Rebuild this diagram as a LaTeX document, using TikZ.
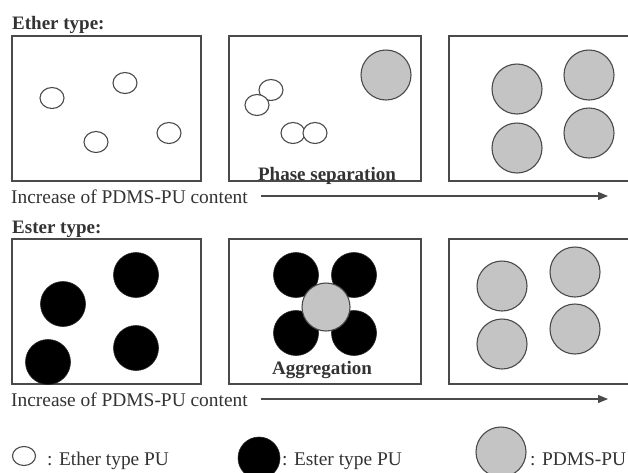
\documentclass[tikz,border=0pt]{standalone}
\usepackage{fontspec}
\setmainfont{Liberation Serif}
\usetikzlibrary{shapes.geometric,arrows.meta}
\definecolor{ink}{HTML}{333333}
\definecolor{edge}{HTML}{4A4A4A}
\definecolor{pdms}{HTML}{C4C4C4}
\tikzset{
  panel/.style={draw=edge,line width=1.3pt},
  etherpu/.style={ellipse,draw=edge,line width=1.1pt,fill=white,minimum width=24pt,minimum height=21pt,inner sep=0pt},
  esterpu/.style={circle,fill=black,draw=black!85,line width=0.6pt,minimum size=45pt,inner sep=0pt},
  pdmspu/.style={circle,fill=pdms,draw=edge,line width=1.1pt,minimum size=50pt,inner sep=0pt},
  heading/.style={font=\bfseries\fontsize{19}{21}\selectfont,text=ink,inner sep=0pt,anchor=base west},
  caption/.style={font=\fontsize{19.4}{21}\selectfont,text=ink,inner sep=0pt,anchor=base west},
  stage/.style={font=\bfseries\fontsize{19}{21}\selectfont,text=ink,inner sep=0pt,anchor=base},
  trend/.style={draw=edge,line width=1.1pt,-{Triangle[length=10pt,width=8pt]}}
}
\begin{document}
\begin{tikzpicture}[x=1pt,y=-1pt]
\useasboundingbox (0,0) rectangle (628,472);
\clip (0,0) rectangle (628,472);
\fill[white] (0,0) rectangle (628,472);
% headings
\node[heading] (ethT) at (12,29) {Ether type:};
\node[heading] (estT) at (12,233) {Ester type:};
% top row panels
\draw[panel] (12,36) rectangle (201,181);
\draw[panel] (229,36) rectangle (421,181);
\draw[panel] (449,36) rectangle (640,181);
% panel 1 ether
\node[etherpu] (e1) at (52,98) {};
\node[etherpu] (e2) at (125,83) {};
\node[etherpu] (e3) at (96,142) {};
\node[etherpu] (e4) at (169,133) {};
% panel 2 ether
\node[etherpu] (e5) at (271,90) {};
\node[etherpu] (e6) at (257,105) {};
\node[etherpu] (e7) at (293,133) {};
\node[etherpu] (e8) at (315,133) {};
\node[pdmspu] (p1) at (386,75) {};
\node[stage] (ps) at (327,180) {Phase separation};
% panel 3
\node[pdmspu] (p2) at (517,89) {};
\node[pdmspu] (p3) at (589,75) {};
\node[pdmspu] (p4) at (517,148) {};
\node[pdmspu] (p5) at (589,133) {};
% arrow 1
\node[caption] (inc1) at (11,203) {Increase of PDMS-PU content};
\coordinate (end1) at (608,196);
\draw[trend] ([xshift=13pt]inc1.east |- end1) -- (end1);
% bottom row panels
\draw[panel] (12,239) rectangle (201,384);
\draw[panel] (229,239) rectangle (421,384);
\draw[panel] (449,239) rectangle (640,384);
% panel 4 ester
\node[esterpu] (s1) at (63,304) {};
\node[esterpu] (s2) at (136,275) {};
\node[esterpu] (s3) at (136,348) {};
\node[esterpu] (s4) at (48,362) {};
% panel 5 aggregation
\node[esterpu] (s5) at (296,275) {};
\node[esterpu] (s6) at (354,275) {};
\node[esterpu] (s7) at (296,333) {};
\node[esterpu] (s8) at (354,333) {};
\node[pdmspu,minimum size=48pt] (p6) at (326,307) {};
\node[stage] (ag) at (322,374) {Aggregation};
% panel 6
\node[pdmspu] (p7) at (502,286) {};
\node[pdmspu] (p8) at (575,272) {};
\node[pdmspu] (p9) at (502,344) {};
\node[pdmspu] (p10) at (575,329) {};
% arrow 2
\node[caption] (inc2) at (11,406) {Increase of PDMS-PU content};
\coordinate (end2) at (608,399);
\draw[trend] ([xshift=13pt]inc2.east |- end2) -- (end2);
% legend
\node[etherpu,minimum width=23pt,minimum height=19pt] (le) at (24,456) {};
\node[caption] (lt1) at (47,465) {: Ether type PU};
\node[esterpu,minimum size=42pt] (ls) at (259,458) {};
\node[caption] (lt2) at (282,465) {: Ester type PU};
\node[pdmspu] (lp) at (501,452) {};
\node[caption] (lt3) at (530,465) {: PDMS-PU};
\end{tikzpicture}
\end{document}
